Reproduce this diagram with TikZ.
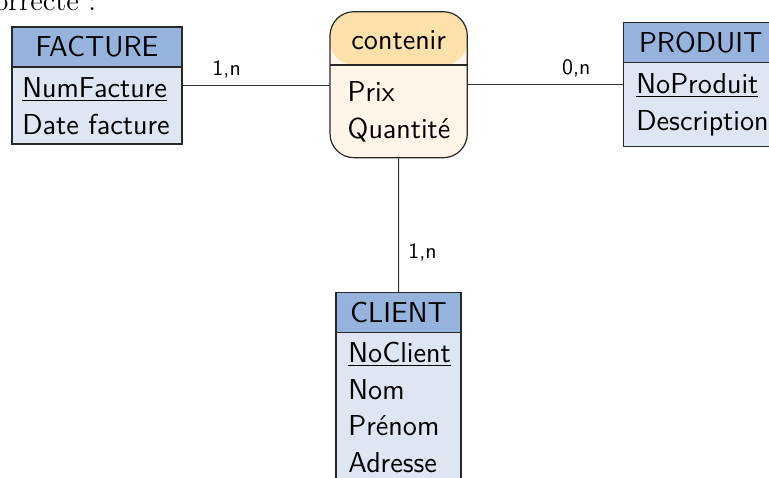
\documentclass[tikz,border=0pt]{standalone}
\usepackage{fontspec}
\usetikzlibrary{calc}

\definecolor{enthead}{RGB}{149,179,221}
\definecolor{entbody}{RGB}{222,230,244}
\definecolor{relhead}{RGB}{253,224,170}
\definecolor{relbody}{RGB}{255,245,232}
\definecolor{edgecol}{RGB}{40,40,40}
\definecolor{wirecol}{RGB}{50,50,50}

\tikzset{
  % entity box: one node, header band filled via path picture
  entity/.style={draw=edgecol, line width=0.6pt, fill=entbody, inner sep=0pt,
    path picture={
      \fill[enthead] (path picture bounding box.north west)
        rectangle ([yshift=-#1]path picture bounding box.north east);
      \draw[edgecol, line width=0.6pt] ([yshift=-#1]path picture bounding box.north west)
        -- ([yshift=-#1]path picture bounding box.north east);
    }},
  % association box with rounded corners
  relation/.style={draw=edgecol, line width=0.6pt, fill=relbody, inner sep=0pt,
    rounded corners=12pt,
    path picture={
      \fill[relhead] (path picture bounding box.north west)
        rectangle ([yshift=-#1]path picture bounding box.north east);
      \draw[edgecol, line width=0.6pt] ([yshift=-#1]path picture bounding box.north west)
        -- ([yshift=-#1]path picture bounding box.north east);
    }},
  ttl/.style={anchor=base, inner sep=0pt},
  txt/.style={anchor=base west, inner sep=0pt},
  wire/.style={draw=wirecol, line width=0.5pt},
  card/.style={anchor=base, inner sep=0pt, yshift=5.2pt,
    font=\sffamily\fontsize{10.95}{13}\selectfont},
  cardv/.style={anchor=base west, inner sep=0pt, xshift=4.7pt,
    font=\sffamily\fontsize{10.95}{13}\selectfont},
}

\begin{document}
\begin{tikzpicture}[x=0.5pt, y=-0.5pt, font=\sffamily\fontsize{14.4}{18}\selectfont]
  \useasboundingbox (0,0) rectangle (769,477);
  \clip (0,0) rectangle (769,477);

  % preceding line of running text
  \node[anchor=base east, inner sep=0pt, font=\rmfamily\fontsize{14.4}{18}\selectfont]
    (intro) at (96.5,10) {correcte :};

  % FACTURE
  \node[entity=20pt, minimum width=85pt, minimum height=58.5pt] (fact) at (97,85.5) {};
  \node[ttl] (factT) at (97,56.5) {FACTURE};
  \node[txt] (fact1) at (22,97.3) {\underline{NumFacture}};
  \node[txt] (fact2) at (22,134.3) {Date facture};

  % contenir
  \node[relation=26.65pt, minimum width=68.65pt, minimum height=73pt] (cont) at (398.65,84.7) {};
  \node[ttl] (contT) at (398.7,49.3) {contenir};
  \node[txt] (cont1) at (347.3,101.7) {Prix};
  \node[txt] (cont2) at (347.3,138.3) {Quantité};

  % PRODUIT
  \node[entity=19.8pt, minimum width=77.35pt, minimum height=62pt] (prod) at (700.65,84.7) {};
  \node[ttl] (prodT) at (700.65,52.5) {PRODUIT};
  \node[txt] (prod1) at (636,93.3) {\underline{NoProduit}};
  \node[txt] (prod2) at (636,130) {Description};

  % CLIENT
  \node[entity=19.8pt, minimum width=62.5pt, minimum height=95.65pt] (cli) at (398.5,388.35) {};
  \node[ttl] (cliT) at (398.5,322.5) {CLIENT};
  \node[txt] (cli1) at (348,362.5) {\underline{NoClient}};
  \node[txt] (cli2) at (348,399.2) {Nom};
  \node[txt] (cli3) at (348,435.9) {Prénom};
  \node[txt] (cli4) at (348,472.6) {Adresse};

  % links with cardinalities
  \draw[wire] (fact.east) -- node[card, pos=0.3] (c1) {1,n} (fact.east -| cont.west);
  \draw[wire] (cont.east) -- node[card, pos=0.7] (c2) {0,n} (cont.east -| prod.west);
  \draw[wire] (cont.south) -- node[cardv, pos=0.75] (c3) {1,n} (cli.north);
\end{tikzpicture}
\end{document}
